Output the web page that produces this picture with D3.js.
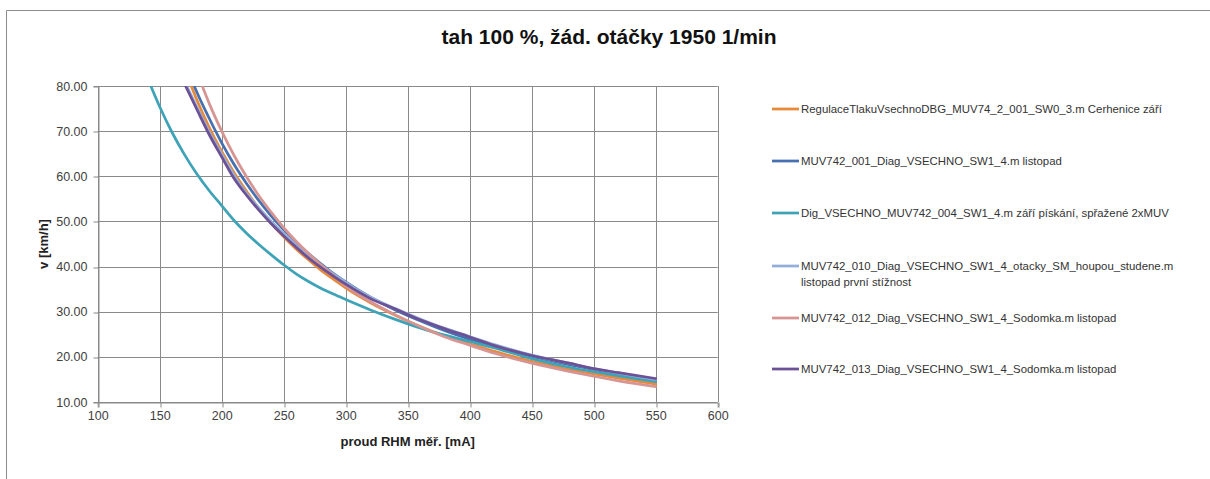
<!DOCTYPE html>
<html>
<head>
<meta charset="utf-8">
<script src="https://cdn.jsdelivr.net/npm/d3@7"></script>
<style>
  html, body { margin: 0; padding: 0; background: #ffffff; }
  svg { display: block; }
  text { font-family: "Liberation Sans", Arial, sans-serif; }
</style>
</head>
<body>
<svg id="chart" width="1210" height="479"></svg>
<script>
// ---------- data ----------
const chartTitle = "tah 100 %, žád. otáčky 1950 1/min";
const xTitle = "proud RHM měř. [mA]";
const yTitle = "v [km/h]";

const xTicks = [100, 150, 200, 250, 300, 350, 400, 450, 500, 550, 600];
const yTicks = [10, 20, 30, 40, 50, 60, 70, 80];

// current [mA] for the five close series
const currentMA = [170, 180, 190, 200, 210, 220, 230, 240, 250, 260, 270, 280, 290, 300,
                   320, 340, 360, 380, 400, 420, 450, 480, 500, 520, 550];
// current [mA] for the teal series
const currentTeal = [140, 150, 160, 170, 180, 190, 200, 210, 220, 230, 240, 250, 260, 270, 280, 290, 300,
                     320, 340, 360, 380, 400, 420, 450, 480, 500, 520, 550];

const seriesNames = [
  "RegulaceTlakuVsechnoDBG_MUV74_2_001_SW0_3.m Cerhenice září",
  "MUV742_001_Diag_VSECHNO_SW1_4.m listopad",
  "Dig_VSECHNO_MUV742_004_SW1_4.m září pískání, spřažené 2xMUV",
  "MUV742_010_Diag_VSECHNO_SW1_4_otacky_SM_houpou_studene.m\nlistopad první stížnost",
  "MUV742_012_Diag_VSECHNO_SW1_4_Sodomka.m listopad",
  "MUV742_013_Diag_VSECHNO_SW1_4_Sodomka.m listopad"
];
const seriesColors = ["#E8893A", "#4670B0", "#3FA3B8", "#93AFD9", "#D69593", "#6C5196"];

const vOrange = [83.9, 76.9, 70.8, 65.5, 60.8, 56.7, 52.9, 49.6, 46.6, 43.9, 41.5, 39.2, 37.2, 35.3,
                 32.0, 29.2, 26.7, 24.6, 22.9, 21.2, 19.0, 17.2, 16.2, 15.3, 14.0];
const vBlue   = [85.5, 78.6, 72.8, 67.4, 62.6, 58.4, 54.6, 51.2, 48.2, 45.4, 42.9, 40.6, 38.5, 36.6,
                 33.2, 30.4, 28.0, 25.8, 23.9, 22.3, 20.1, 18.3, 17.2, 16.2, 15.0];
const vTeal   = [81.9, 75.4, 69.7, 64.8, 60.5, 56.8, 53.5, 50.2, 47.4, 44.9, 42.6, 40.4, 38.4, 36.7, 35.2, 33.9, 32.7,
                 30.4, 28.3, 26.4, 24.8, 23.4, 22.0, 19.6, 17.7, 16.7, 15.8, 14.5];
const vLight  = [81.0, 75.3, 69.8, 64.9, 60.2, 56.2, 53.0, 50.0, 47.3, 44.8, 42.4, 40.3, 38.4, 36.5,
                 33.2, 30.7, 28.4, 26.3, 24.5, 22.7, 20.4, 18.6, 17.4, 16.4, 15.0];
const vPink   = [91.3, 83.2, 76.1, 70.0, 64.6, 59.9, 55.7, 52.0, 48.6, 45.6, 42.9, 40.4, 38.0, 35.7,
                 32.2, 29.3, 26.7, 24.4, 22.6, 20.8, 18.6, 16.8, 15.7, 14.7, 13.4];
const vPurple = [80.5, 74.8, 69.2, 64.3, 59.5, 55.8, 52.5, 49.5, 46.8, 44.3, 41.9, 39.8, 37.9, 36.1,
                 32.9, 30.6, 28.2, 26.2, 24.4, 22.5, 20.3, 18.6, 17.4, 16.5, 15.2];

const seriesX = [currentMA, currentMA, currentTeal, currentMA, currentMA, currentMA];
const seriesY = [vOrange, vBlue, vTeal, vLight, vPink, vPurple];

// ---------- layout ----------
const svg = d3.select("#chart");
const W = 1210, H = 479;
const plot = { left: 97.7, right: 717.7, top: 86, bottom: 402 };

svg.append("rect").attr("width", W).attr("height", H).attr("fill", "#fff");
// chart frame (top and left edges visible)
svg.append("path")
  .attr("d", `M6.5,${H + 2} L6.5,10.5 L${W + 2},10.5`)
  .attr("fill", "none").attr("stroke", "#8c8c8c").attr("stroke-width", 1);

const x = d3.scaleLinear().domain([100, 600]).range([plot.left, plot.right]);
const y = d3.scaleLinear().domain([10, 80]).range([plot.bottom, plot.top]);

const gridColor = "#8a8a8a";
// grid
svg.append("g").selectAll("line.v").data(xTicks).join("line")
  .attr("x1", d => Math.round(x(d)) + 0.5).attr("x2", d => Math.round(x(d)) + 0.5)
  .attr("y1", plot.top).attr("y2", plot.bottom)
  .attr("stroke", gridColor).attr("stroke-width", 1);
svg.append("g").selectAll("line.h").data(yTicks).join("line")
  .attr("y1", d => Math.round(y(d)) + 0.5).attr("y2", d => Math.round(y(d)) + 0.5)
  .attr("x1", plot.left).attr("x2", plot.right)
  .attr("stroke", gridColor).attr("stroke-width", 1);

// axes
const xAxis = d3.axisBottom(x).tickValues(xTicks).tickSize(5).tickPadding(4).tickFormat(d3.format("d"));
const gx = svg.append("g").attr("transform", `translate(0,${Math.round(plot.bottom) + 0.5})`).call(xAxis);
gx.select(".domain").attr("stroke", gridColor);
gx.selectAll(".tick line").attr("stroke", gridColor)
  .attr("transform", function(d){ return `translate(${Math.round(x(d)) + 0.5 - x(d)},0)`; });
gx.selectAll(".tick text").attr("font-size", 12.5).attr("fill", "#404040")
  .attr("font-family", "Liberation Sans, Arial, sans-serif");

const yAxis = d3.axisLeft(y).tickValues(yTicks).tickSize(5).tickPadding(6).tickFormat(d3.format(".2f"));
const gy = svg.append("g").attr("transform", `translate(${Math.round(plot.left) + 0.5},0)`).call(yAxis);
gy.select(".domain").attr("stroke", gridColor);
gy.selectAll(".tick line").attr("stroke", gridColor)
  .attr("transform", function(d){ return `translate(0,${Math.round(y(d)) + 0.5 - y(d)})`; });
gy.selectAll(".tick text").attr("font-size", 12.5).attr("fill", "#404040")
  .attr("font-family", "Liberation Sans, Arial, sans-serif");

// clip
svg.append("clipPath").attr("id", "plotclip").append("rect")
  .attr("x", plot.left).attr("y", plot.top)
  .attr("width", plot.right - plot.left).attr("height", plot.bottom - plot.top);

const line = d3.line().x(d => x(d[0])).y(d => y(d[1])).curve(d3.curveMonotoneX);
const gLines = svg.append("g").attr("clip-path", "url(#plotclip)");
seriesY.forEach((vals, i) => {
  const pts = seriesX[i].map((cx, j) => [cx, vals[j]]);
  gLines.append("path").datum(pts)
    .attr("d", line)
    .attr("fill", "none")
    .attr("stroke", seriesColors[i])
    .attr("stroke-width", 2.75)
    .attr("stroke-linejoin", "round")
    .attr("stroke-linecap", "round");
});

// titles
svg.append("text").attr("x", 609).attr("y", 44).attr("text-anchor", "middle")
  .attr("font-size", 21).attr("font-weight", "bold").attr("fill", "#111").text(chartTitle);
svg.append("text").attr("x", (plot.left + plot.right) / 2).attr("y", 446).attr("text-anchor", "middle")
  .attr("font-size", 13).attr("font-weight", "bold").attr("fill", "#222").text(xTitle);
svg.append("text").attr("transform", `translate(48,${(plot.top + plot.bottom) / 2}) rotate(-90)`)
  .attr("text-anchor", "middle")
  .attr("font-size", 13).attr("font-weight", "bold").attr("fill", "#222").text(yTitle);

// legend
const legendY = [109, 161, 213, 266, 318, 369];
const lg = svg.append("g");
seriesNames.forEach((name, i) => {
  const g = lg.append("g").attr("transform", `translate(0,${legendY[i]})`);
  g.append("line").attr("x1", 772).attr("x2", 799).attr("y1", 0).attr("y2", 0)
    .attr("stroke", seriesColors[i]).attr("stroke-width", 2.75);
  const t = g.append("text").attr("x", 801).attr("y", 4)
    .attr("font-size", 11.4).attr("fill", "#333");
  name.split("\n").forEach((part, k) => {
    t.append("tspan").attr("x", 801).attr("dy", k === 0 ? 0 : 15.5).text(part);
  });
});
</script>
</body>
</html>
